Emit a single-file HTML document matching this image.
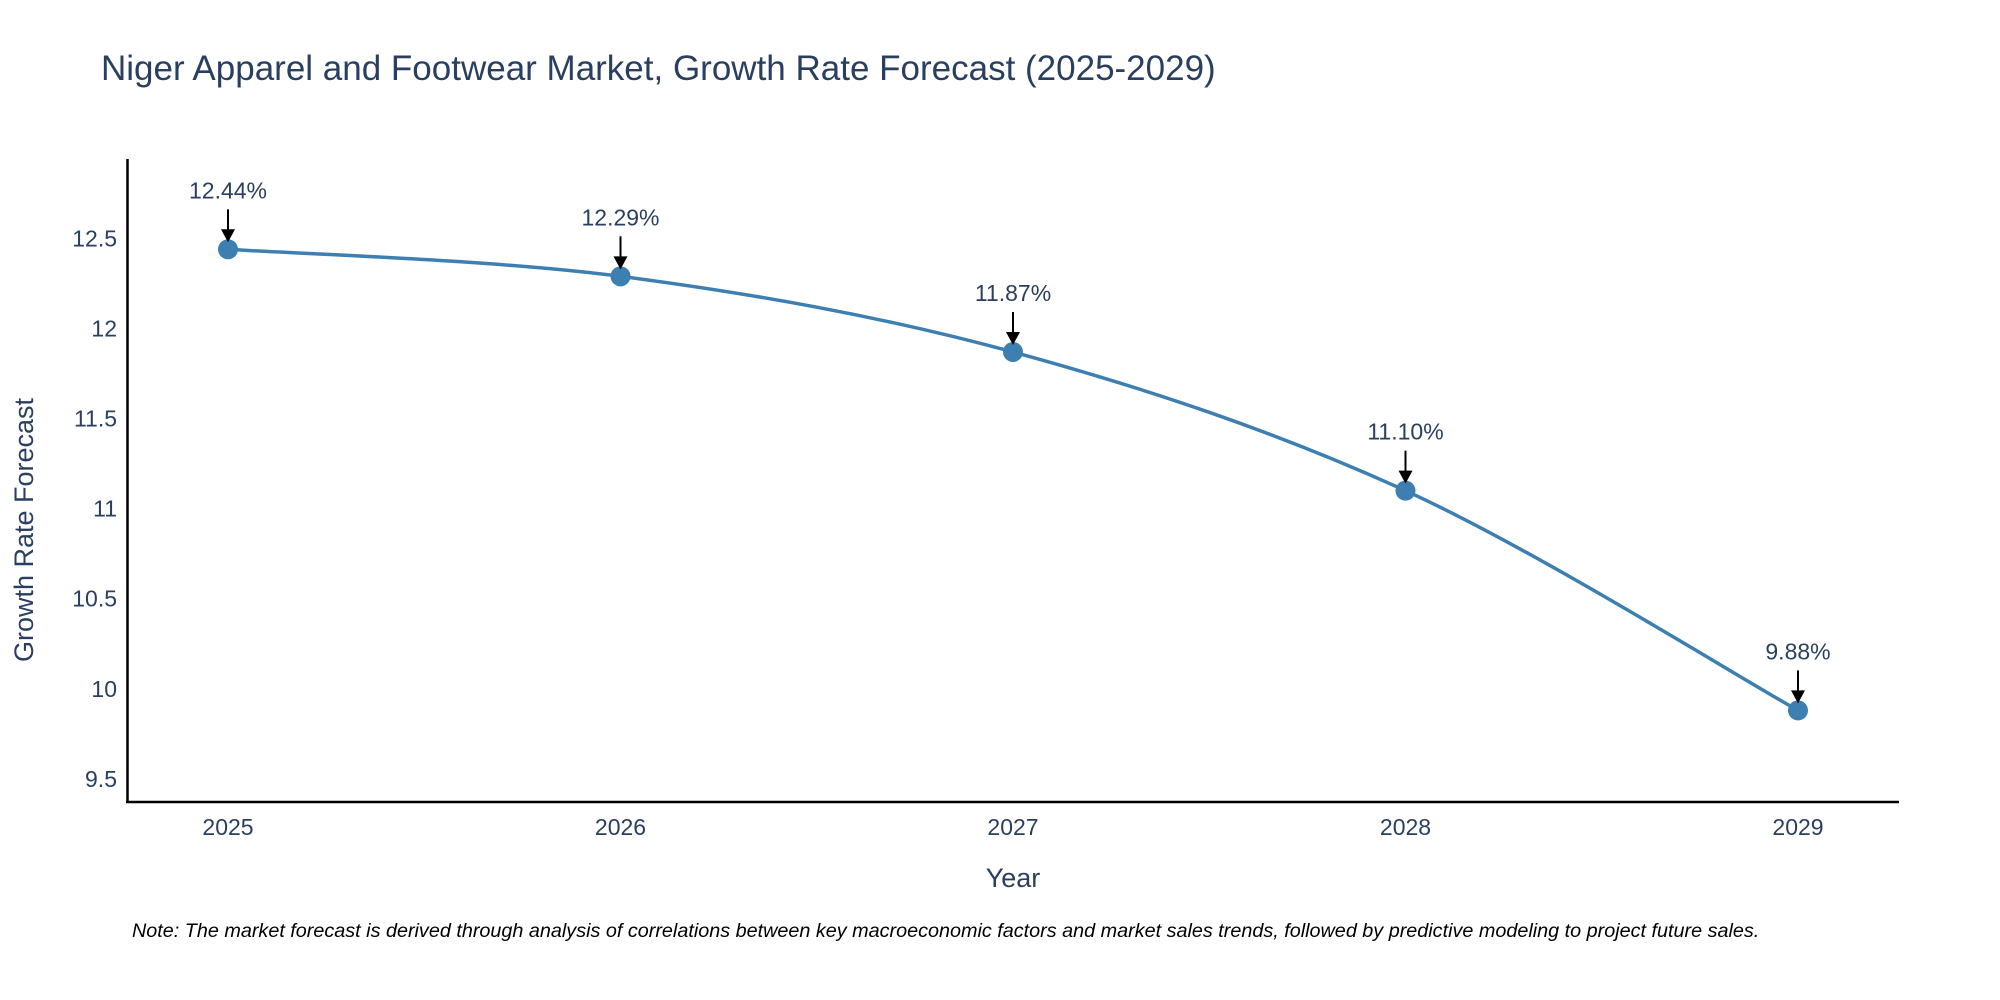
<!DOCTYPE html>
<html><head><meta charset="utf-8">
<style>
html,body{margin:0;padding:0;background:#fff;}
svg{display:block;font-family:"Liberation Sans","DejaVu Sans",sans-serif;}
</style></head>
<body>
<svg id="chart" width="2000" height="1000" viewBox="0 0 2000 1000">
<text x="101" y="80" font-size="35" fill="#2a3f5f">Niger Apparel and Footwear Market, Growth Rate Forecast (2025-2029)</text>
<g id="yticks"></g>
<g id="xticks"></g>
<line x1="127.5" y1="159" x2="127.5" y2="802" stroke="#000" stroke-width="2.5"/>
<line x1="126" y1="802" x2="1899" y2="802" stroke="#000" stroke-width="2.5"/>
<path id="line" fill="none" stroke="#3d7fb0" stroke-width="3.5"/>
<g id="marks"></g>
<g id="annots"></g>
<text x="1013" y="887" font-size="27" fill="#2a3f5f" text-anchor="middle">Year</text>
<text transform="translate(33,530) rotate(-90)" font-size="27" fill="#2a3f5f" text-anchor="middle">Growth Rate Forecast</text>
<text x="132" y="937" font-size="19.8" font-style="italic" fill="#000">Note: The market forecast is derived through analysis of correlations between key macroeconomic factors and market sales trends, followed by predictive modeling to project future sales.</text>
</svg>
<script>
const years = [2025, 2026, 2027, 2028, 2029];
const values = [12.44, 12.29, 11.87, 11.10, 9.88];
const labels = ["12.44%", "12.29%", "11.87%", "11.10%", "9.88%"];
const yTicks = [9.5, 10, 10.5, 11, 11.5, 12, 12.5];
const yTickLabels = ["9.5", "10", "10.5", "11", "11.5", "12", "12.5"];

const NS = "http://www.w3.org/2000/svg";
function xS(v){ return 228 + (v - 2025) * (1798 - 228) / 4; }
function yS(v){ return 688.8 - (v - 10) * (688.8 - 238.5) / 2.5; }
function mk(tag, attrs, parent){
  const e = document.createElementNS(NS, tag);
  for (const k in attrs) e.setAttribute(k, attrs[k]);
  parent.appendChild(e); return e;
}
const yg = document.getElementById('yticks');
yTicks.forEach((t,i)=>{
  const e = mk('text',{x:117,y:yS(t)+8,'font-size':23,fill:'#2a3f5f','text-anchor':'end'},yg);
  
  
  e.textContent = yTickLabels[i];
});
const xg = document.getElementById('xticks');
years.forEach(y=>{
  const e = mk('text',{x:xS(y),y:835,'font-size':23,fill:'#2a3f5f','text-anchor':'middle'},xg);
  
  
  e.textContent = y;
});
const pts = years.map((y,i)=>[xS(y), yS(values[i])]);
let d = `M${pts[0][0]},${pts[0][1]}`;
for (let i=0;i<pts.length-1;i++){
  const p0 = pts[Math.max(0,i-1)], p1 = pts[i], p2 = pts[i+1], p3 = pts[Math.min(pts.length-1,i+2)];
  const c1 = [p1[0]+(p2[0]-p0[0])/6, p1[1]+(p2[1]-p0[1])/6];
  const c2 = [p2[0]-(p3[0]-p1[0])/6, p2[1]-(p3[1]-p1[1])/6];
  d += ` C${c1[0]},${c1[1]} ${c2[0]},${c2[1]} ${p2[0]},${p2[1]}`;
}
document.getElementById('line').setAttribute('d', d);
const mg = document.getElementById('marks'), ag = document.getElementById('annots');
pts.forEach((p,i)=>{
  const c = mk('circle',{cx:p[0],cy:p[1],r:10,fill:'#3d7fb0'},mg);
  
  
  const l = mk('line',{x1:p[0],y1:p[1]-40,x2:p[0],y2:p[1]-18,stroke:'#000','stroke-width':2},ag);
  
  
  const h = mk('polygon',{points:`${p[0]-7},${p[1]-20} ${p[0]+7},${p[1]-20} ${p[0]},${p[1]-7}`,fill:'#000'},ag);
  
  
  const t = mk('text',{x:p[0],y:p[1]-51,'font-size':23,fill:'#2a3f5f','text-anchor':'middle'},ag);
  
  
  t.textContent = labels[i];
});
</script>
</body></html>
